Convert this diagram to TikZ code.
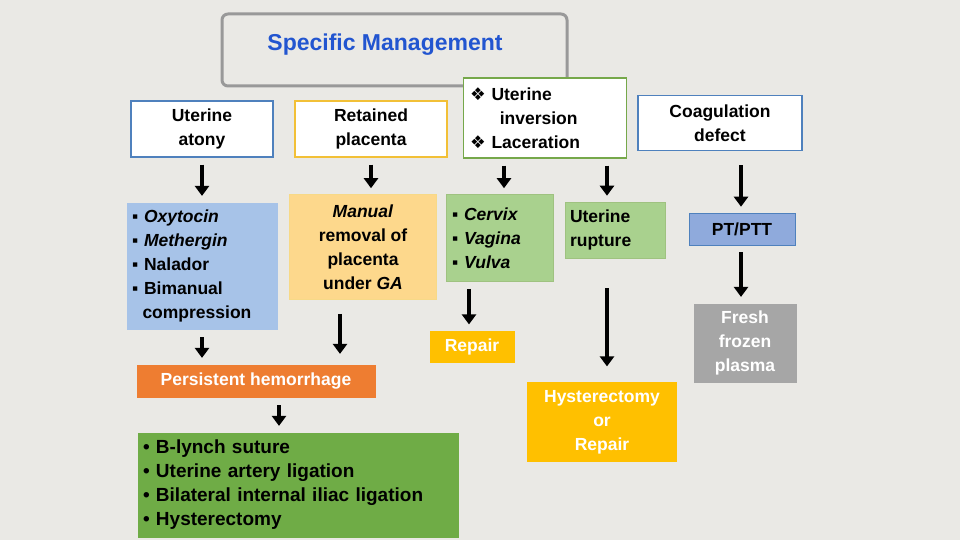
\documentclass[tikz,border=0pt]{standalone}
\usepackage{fontspec}
\setmainfont{Liberation Sans}
\newfontfamily\symf{DejaVu Sans}
\usetikzlibrary{arrows.meta,calc}
\definecolor{bg}{HTML}{EAE9E5}
\definecolor{bblue}{HTML}{4F81BD}
\definecolor{byel}{HTML}{F2C037}
\definecolor{bgreen}{HTML}{76A84A}
\definecolor{fblue}{HTML}{A7C3E8}
\definecolor{fblue2}{HTML}{8FAADC}
\definecolor{forange}{HTML}{FDD88C}
\definecolor{fgreen}{HTML}{A9D18E}
\definecolor{fgray}{HTML}{A6A6A6}
\definecolor{fora}{HTML}{EE7D31}
\definecolor{fgold}{HTML}{FFC000}
\definecolor{fgreen2}{HTML}{6FAC46}
\definecolor{ttl}{HTML}{2255D0}
\begin{document}
\begin{tikzpicture}[x=1pt,y=-1pt,
  bx/.style={draw,line width=1.2pt,inner sep=3pt,font=\fontsize{17.5}{24}\selectfont\bfseries,align=center},
  arr/.style={line width=4pt,-{Triangle[width=14pt,length=10pt]},shorten <=7pt,shorten >=6pt}]
\fill[bg] (0,0) rectangle (960,540);
\useasboundingbox (0,0) rectangle (960,540);
\draw[rounded corners=6pt,line width=3pt,draw=gray!80,fill=bg] (222,14) rectangle (567,86);
\node[text=ttl,font=\fontsize{23}{26}\selectfont\bfseries] (title) at (385,45) {Specific Management};
\node[bx,draw=bblue,fill=white,minimum width=142,minimum height=56] (atony) at (202,129) {Uterine\\atony};
\node[bx,draw=byel,fill=white,minimum width=152,minimum height=56] (ret) at (371,129) {Retained\\placenta};
\node[bx,draw=bgreen,fill=white,minimum width=163,minimum height=80,align=left,text width=150] (inv) at (545,118) {{\symf ❖}\ Uterine\\\hspace*{1.7em}inversion\\{\symf ❖}\ Laceration};
\node[bx,draw=bblue,fill=white,minimum width=164,minimum height=55] (coag) at (720,123) {Coagulation\\defect};
\node[bx,draw=none,fill=fblue,minimum width=151,minimum height=127,align=left,text width=140] (oxy) at (202,266) {▪ \textit{Oxytocin}\\▪ \textit{Methergin}\\▪ Nalador\\▪ Bimanual\\\hspace*{0.6em}compression};
\node[bx,draw=byel!60,line width=0.6pt,fill=forange,minimum width=147,minimum height=105] (man) at (363,247) {\textit{Manual}\\removal of\\placenta\\under \textit{GA}};
\node[bx,draw=bgreen!70,line width=0.6pt,fill=fgreen,minimum width=107,minimum height=87,align=left,text width=96] (cerv) at (500,238) {▪ \textit{Cervix}\\▪ \textit{Vagina}\\▪ \textit{Vulva}};
\node[bx,draw=bgreen!70,line width=0.6pt,fill=fgreen,minimum width=100,minimum height=56,align=left,text width=90] (rup) at (615,230) {Uterine\\rupture};
\node[bx,draw=bblue,line width=0.6pt,fill=fblue2,minimum width=106,minimum height=32] (pt) at (742,229) {PT/PTT};
\node[bx,draw=none,fill=fgray,text=white,minimum width=103,minimum height=79] (ffp) at (745,343) {Fresh\\frozen\\plasma};
\node[bx,draw=none,fill=fora,text=white,minimum width=239,minimum height=33] (pers) at (256,381) {Persistent hemorrhage};
\node[bx,draw=none,fill=fgold,text=white,minimum width=85,minimum height=32] (rep) at (472,347) {Repair};
\node[bx,draw=none,fill=fgold,text=white,minimum width=150,minimum height=80] (hyst) at (602,422) {Hysterectomy\\or\\Repair};
\node[bx,draw=none,fill=fgreen2,minimum width=321,minimum height=105,align=left,text width=310,font=\fontsize{19}{24}\selectfont\bfseries] (lig) at (298,485) {• B-lynch suture\\• Uterine artery ligation\\• Bilateral internal iliac ligation\\• Hysterectomy};
\draw[arr] (atony) -- (oxy);
\draw[arr] (ret.south) -- (ret.south |- man.north);
\draw[arr] (inv.south -| 504,0) -- (cerv.north -| 504,0);
\draw[arr] (inv.south -| 607,0) -- (rup.north -| 607,0);
\draw[arr,shorten <=14pt] (coag.south -| 741,0) -- (pt.north -| 741,0);
\draw[arr] (pt.south -| 741,0) -- (ffp.north -| 741,0);
\draw[arr] (oxy.south) -- (oxy.south |- pers.north);
\draw[arr,shorten <=14pt,shorten >=10pt] (man.south -| 340,0) -- (pers.north -| 340,0);
\draw[arr] (cerv.south -| 469,0) -- (rep.north -| 469,0);
\draw[arr,shorten <=30pt,shorten >=15pt] (rup.south -| 607,0) -- (hyst.north -| 607,0);
\draw[arr] (pers.south -| 279,0) -- (lig.north -| 279,0);
\end{tikzpicture}
\end{document}
